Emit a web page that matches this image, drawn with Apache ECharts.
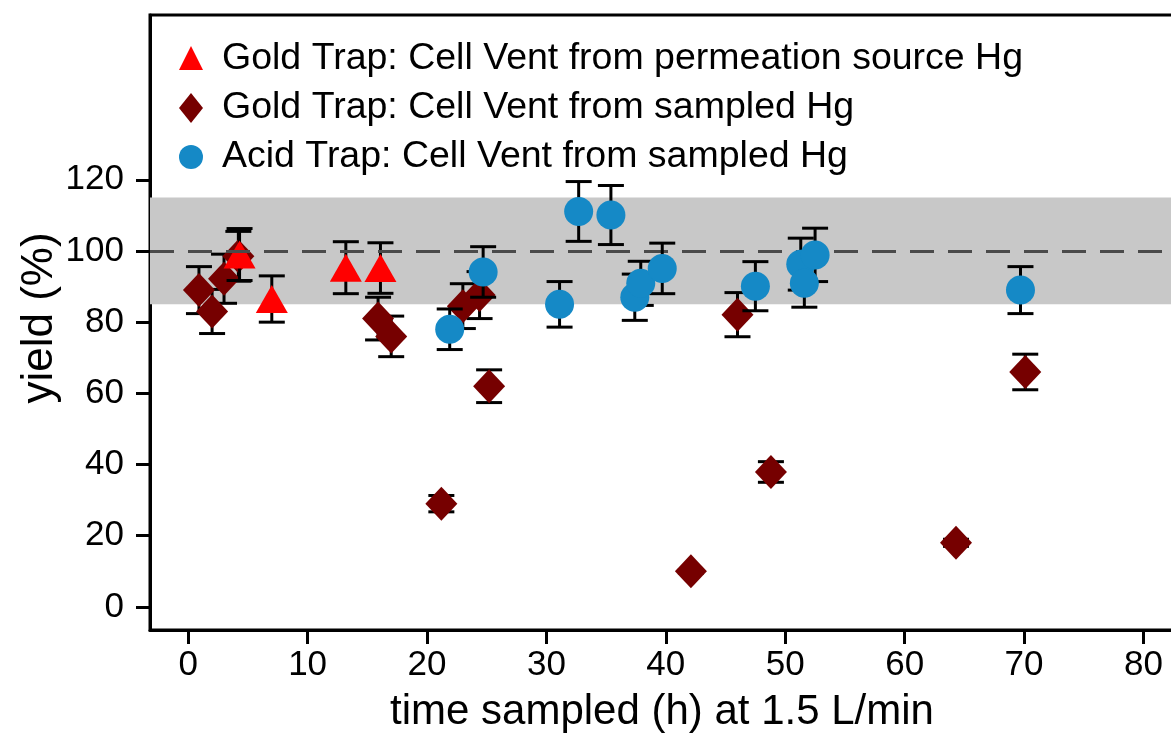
<!DOCTYPE html>
<html>
<head>
<meta charset="utf-8">
<script src="https://cdn.jsdelivr.net/npm/echarts@6/dist/echarts.min.js"></script>
<style>
html,body{margin:0;padding:0;background:#fff;}
#c{width:1171px;height:740px;}
</style>
</head>
<body>
<div id="c"></div>
<script>
// ---- data ----
const seriesNames = [
  'Gold Trap: Cell Vent from permeation source Hg',
  'Gold Trap: Cell Vent from sampled Hg',
  'Acid Trap: Cell Vent from sampled Hg'
];
const xTitle = 'time sampled (h) at 1.5 L/min';
const yTitle = 'yield (%)';

const permX = [4.3, 7.0, 13.2, 16.1];
const permY = [99.0, 86.5, 95.3, 95.2];
const permErr = [7.3, 6.5, 7.3, 7.1];

const goldX = [0.9, 2.0, 3.0, 4.2, 15.9, 17.0, 21.2, 23.0, 24.4, 25.2, 42.1, 46.0, 48.8, 64.3, 70.1];
const goldY = [89.0, 83.0, 92.2, 98.5, 81.0, 76.0, 29.0, 84.5, 87.6, 62.0, 10.0, 82.1, 37.9, 18.0, 66.0];
const goldErr = [6.6, 6.2, 6.9, 7.0, 6.0, 5.7, 2.3, 6.3, 6.6, 4.6, 0.5, 6.2, 2.9, 1.0, 5.0];

const acidX = [21.9, 24.7, 31.1, 32.7, 35.4, 37.4, 37.9, 39.7, 47.5, 51.3, 51.6, 52.5, 69.7];
const acidY = [78.0, 94.1, 85.0, 111.1, 110.1, 87.0, 90.9, 95.1, 90.1, 96.3, 90.9, 98.9, 89.0];
const acidErr = [5.7, 7.1, 6.4, 8.4, 8.3, 6.5, 6.2, 7.1, 6.9, 7.3, 6.7, 7.5, 6.6];

const xTicks = [0, 10, 20, 30, 40, 50, 60, 70, 80];
const yTicks = [0, 20, 40, 60, 80, 100, 120];
const bandRange = [85, 115];
const refLine = 100;

// ---- build ----
const FONT = '"Liberation Sans", Arial, Helvetica, sans-serif';
const COLORS = { perm: '#ff0000', gold: '#760000', acid: '#1589c6' };

function pts(xs, ys) { return xs.map((x, i) => [x, ys[i]]); }
function errData(xs, ys, es) { return xs.map((x, i) => [x, ys[i] - es[i], ys[i] + es[i]]); }

function errSeries(xs, ys, es, z) {
  return {
    type: 'custom',
    z: z,
    silent: true,
    data: errData(xs, ys, es),
    renderItem: function (params, api) {
      const x = api.value(0);
      const lo = api.coord([x, api.value(1)]);
      const hi = api.coord([x, api.value(2)]);
      const hw = 13;
      const st = { stroke: '#000', lineWidth: 3 };
      return {
        type: 'group',
        children: [
          { type: 'line', shape: { x1: lo[0], y1: lo[1], x2: hi[0], y2: hi[1] }, style: st },
          { type: 'line', shape: { x1: lo[0] - hw, y1: lo[1], x2: lo[0] + hw, y2: lo[1] }, style: st },
          { type: 'line', shape: { x1: hi[0] - hw, y1: hi[1], x2: hi[0] + hw, y2: hi[1] }, style: st }
        ]
      };
    }
  };
}

// legend + axis titles drawn as graphic text
const legX = 191, legTextX = 222, legRows = [59, 108, 157];
function legText(txt, y) {
  return {
    type: 'text', x: legTextX, y: y, z: 100,
    style: { text: txt, fontFamily: FONT, fontSize: 37.5, fill: '#000', align: 'left', verticalAlign: 'middle' }
  };
}
const legendGraphics = [
  { type: 'polygon', z: 100, shape: { points: [[legX, legRows[0] - 13], [legX + 12, legRows[0] + 11], [legX - 12, legRows[0] + 11]] }, style: { fill: COLORS.perm } },
  legText(seriesNames[0], legRows[0]),
  { type: 'polygon', z: 100, shape: { points: [[legX, legRows[1] - 15], [legX + 12, legRows[1]], [legX, legRows[1] + 15], [legX - 12, legRows[1]]] }, style: { fill: COLORS.gold } },
  legText(seriesNames[1], legRows[1]),
  { type: 'circle', z: 100, shape: { cx: legX, cy: legRows[2], r: 12 }, style: { fill: COLORS.acid } },
  legText(seriesNames[2], legRows[2]),
  {
    type: 'text', x: 662, y: 712, z: 100,
    style: { text: xTitle, fontFamily: FONT, fontSize: 42, fill: '#000', align: 'center', verticalAlign: 'middle' }
  },
  {
    type: 'text', x: 40, y: 318, rotation: Math.PI / 2, z: 100,
    style: { text: yTitle, fontFamily: FONT, fontSize: 44, fill: '#000', align: 'center', verticalAlign: 'middle' }
  }
];

const chart = echarts.init(document.getElementById('c'), null, { renderer: 'canvas' });
chart.setOption({
  animation: false,
  backgroundColor: '#fff',
  textStyle: { fontFamily: FONT },
  grid: {
    left: 150, top: 15, width: 1030, height: 615,
    outerBoundsMode: 'none', containLabel: false,
    show: true, borderColor: '#000', borderWidth: 3, backgroundColor: 'transparent'
  },
  graphic: legendGraphics,
  xAxis: {
    type: 'value', min: -3.2, max: 83.06,
    axisLine: { show: true, onZero: false, lineStyle: { color: '#000', width: 3 } },
    axisTick: { show: true, length: 14, lineStyle: { color: '#000', width: 3 }, customValues: xTicks },
    axisLabel: { customValues: xTicks, fontFamily: FONT, fontSize: 35, color: '#000', margin: 18 },
    splitLine: { show: false }
  },
  yAxis: {
    type: 'value', min: -6.5, max: 166.3,
    axisLine: { show: true, onZero: false, lineStyle: { color: '#000', width: 3 } },
    axisTick: { show: true, length: 14, lineStyle: { color: '#000', width: 3 }, customValues: yTicks },
    axisLabel: { customValues: yTicks, fontFamily: FONT, fontSize: 35, color: '#000', margin: 26 },
    splitLine: { show: false }
  },
  series: [
    {
      type: 'scatter', z: 0, silent: true, data: [],
      markArea: {
        silent: true,
        itemStyle: { color: '#c8c8c8' },
        data: [[{ yAxis: bandRange[0] }, { yAxis: bandRange[1] }]]
      },
      markLine: {
        silent: true, symbol: ['none', 'none'],
        label: { show: false },
        lineStyle: { color: '#4a4a4a', width: 3, type: [24, 14] },
        data: [{ yAxis: refLine }]
      }
    },
    errSeries(goldX, goldY, goldErr, 1),
    {
      name: seriesNames[1], type: 'scatter', z: 2,
      symbol: 'diamond', symbolSize: [32, 34],
      itemStyle: { color: COLORS.gold, opacity: 1 },
      data: pts(goldX, goldY)
    },
    errSeries(permX, permY, permErr, 3),
    {
      name: seriesNames[0], type: 'scatter', z: 4,
      symbol: 'triangle', symbolSize: [32, 28],
      itemStyle: { color: COLORS.perm, opacity: 1 },
      data: pts(permX, permY)
    },
    errSeries(acidX, acidY, acidErr, 5),
    {
      name: seriesNames[2], type: 'scatter', z: 6,
      symbol: 'circle', symbolSize: 29,
      itemStyle: { color: COLORS.acid, opacity: 1 },
      data: pts(acidX, acidY)
    }
  ]
});
</script>
</body>
</html>
